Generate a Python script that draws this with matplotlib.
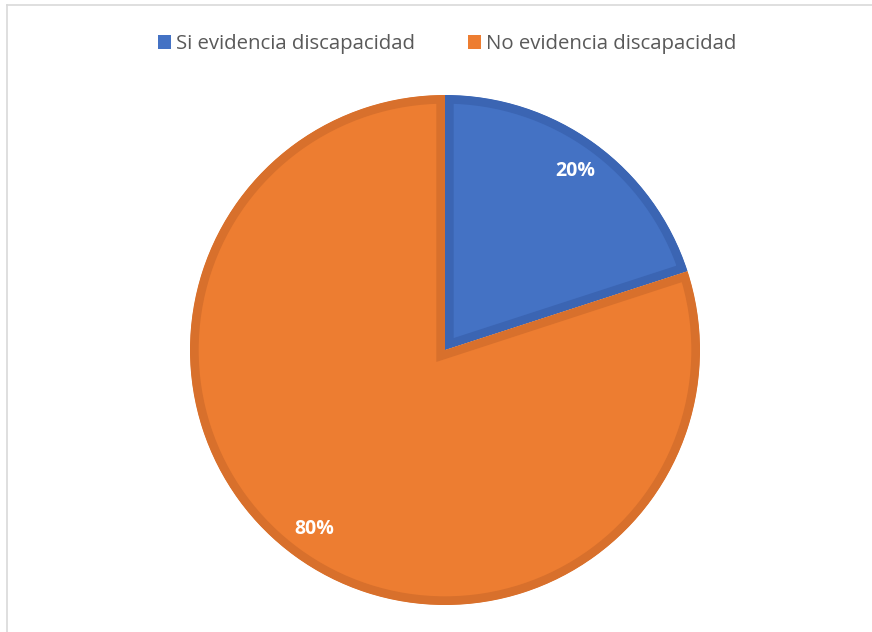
#!/usr/bin/env python3
"""Pie chart: evidencia de discapacidad."""

import matplotlib

matplotlib.use("Agg")
import matplotlib.pyplot as plt
from matplotlib.lines import Line2D
from matplotlib.patches import Patch

labels = ["Si evidencia discapacidad", "No evidencia discapacidad"]
values = [20, 80]
face_colors = ["#4472C4", "#ED7D31"]
edge_colors = ["#3B65B3", "#D8702C"]

W, H = 872, 632
DPI = 100
cx, cy, r = 445, 350, 255

plt.rcParams["font.family"] = ["Open Sans", "DejaVu Sans"]

fig = plt.figure(figsize=(W / DPI, H / DPI), dpi=DPI)
ax = fig.add_axes([(cx - r) / W, (H - cy - r) / H, 2 * r / W, 2 * r / H])

wedges, _, autotexts = ax.pie(
    values,
    colors=face_colors,
    startangle=90,
    counterclock=False,
    radius=1,
    autopct="%1.0f%%",
    pctdistance=0.87,
    textprops={"color": "white", "fontsize": 14, "fontweight": "bold"},
)
# inner stroke only: draw a thick edge and clip it to the wedge itself
for wedge, ec in zip(wedges, edge_colors):
    wedge.set_edgecolor(ec)
    wedge.set_linewidth(12.5)
    wedge.set_clip_on(True)
    wedge.set_clip_path(wedge)

ax.set_xlim(-1, 1)
ax.set_ylim(-1, 1)
ax.set_aspect("equal")
ax.axis("off")

handles = [Patch(facecolor=c, edgecolor="none") for c in face_colors]
fig.legend(
    handles,
    labels,
    loc="center",
    bbox_to_anchor=(447 / W, 1 - 44 / H),
    ncol=2,
    frameon=False,
    fontsize=14.7,
    labelcolor="#595959",
    handlelength=0.64,
    handleheight=0.64,
    handletextpad=0.25,
    columnspacing=2.6,
    borderpad=0,
)

# chart area border (only top and left visible)
fig.add_artist(Line2D([7 / W, 1], [1 - 5 / H, 1 - 5 / H], color="#D9D9D9", lw=1.2, transform=fig.transFigure))
fig.add_artist(Line2D([7 / W, 7 / W], [0, 1 - 5 / H], color="#D9D9D9", lw=1.2, transform=fig.transFigure))

fig.savefig("out.png", dpi=DPI, facecolor="white")
